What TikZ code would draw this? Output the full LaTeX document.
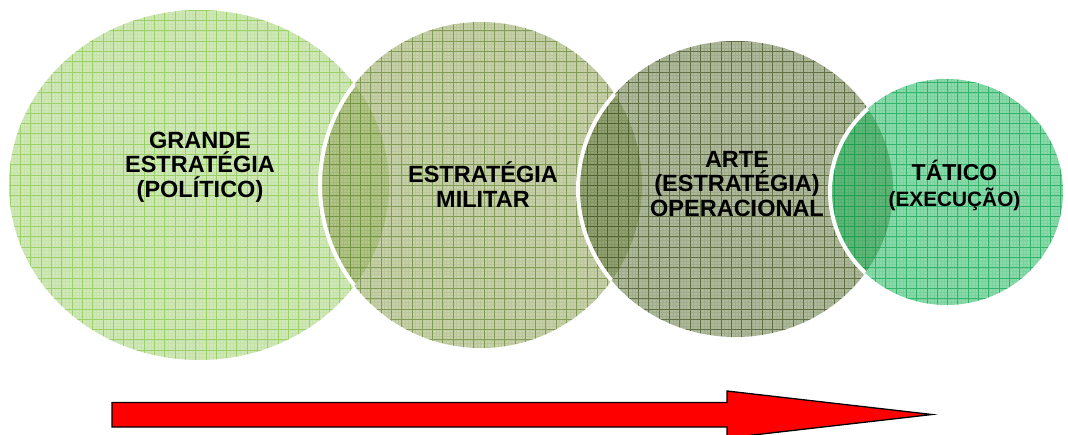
\documentclass[tikz,border=0pt]{standalone}
\usepackage{fontspec}
\setmainfont{Liberation Sans}
\usetikzlibrary{shapes.geometric}
\definecolor{cA}{RGB}{164,209,118}
\definecolor{cAl}{RGB}{135,200,75}
\definecolor{cB}{RGB}{146,164,91}
\definecolor{cBl}{RGB}{105,135,55}
\definecolor{cC}{RGB}{100,119,64}
\definecolor{cCl}{RGB}{70,88,38}
\definecolor{cD}{RGB}{28,182,91}
\definecolor{cDl}{RGB}{20,165,85}
\tikzset{
  lbl/.style={align=center, font=\bfseries\fontsize{23.5}{24.5}\selectfont, text=black, inner sep=0pt},
  rim/.style={draw=white, line width=4pt},
  redarrow/.style={fill=red, draw=black, line width=1.3pt, line join=miter},
}
\newcommand{\bubble}[6]{%
  % #1 cx, #2 cy, #3 rx, #4 ry, #5 fill colour, #6 line colour
  \fill[#5, fill opacity=0.52] (#1,#2) ellipse ({#3} and {#4});
  \begin{scope}
    \clip (#1,#2) ellipse ({#3} and {#4});
    \draw[#6, line width=0.3pt, draw opacity=0.12, step=3.433pt] (#1-#3-12,#2-#4-12) grid (#1+#3+12,#2+#4+12);
    \draw[#6, line width=0.9pt, draw opacity=0.7, step=10.3pt] (#1-#3-12,#2-#4-12) grid (#1+#3+12,#2+#4+12);
  \end{scope}}
\newcommand{\rimover}[8]{%
  % rim of ellipse #1..#4 clipped to ellipse #5..#8
  \begin{scope}
    \clip (#5,#6) ellipse ({#7} and {#8});
    \draw[rim] (#1,#2) ellipse ({#3} and {#4});
  \end{scope}}
\begin{document}
\begin{tikzpicture}[x=1pt,y=-1pt]
\useasboundingbox (0,0) rectangle (1068,434);
\bubble{199}{185}{190}{175}{cA}{cAl}
\bubble{481}{185}{161}{163}{cB}{cBl}
\rimover{481}{185}{161}{163}{199}{185}{190}{175}
\bubble{735.5}{189}{157.5}{148}{cC}{cCl}
\rimover{735.5}{189}{157.5}{148}{481}{185}{161}{163}
\bubble{946.5}{192}{116.5}{113}{cD}{cDl}
\rimover{946.5}{192}{116.5}{113}{735.5}{189}{157.5}{148}

\node[lbl] (t1) at (200,167) {GRANDE\\ESTRATÉGIA\\(POLÍTICO)};
\node[lbl] (t2) at (483,184.5) {ESTRATÉGIA\\MILITAR};
\node[lbl] (t3) at (737,184) {ARTE\\(ESTRATÉGIA)\\OPERACIONAL};
\node[lbl, font=\bfseries\fontsize{23}{26}\selectfont] (t4) at (954.5,185) {TÁTICO\\{\fontsize{20.8}{26}\selectfont (EXECUÇÃO)}};

\draw[redarrow] (112,402.5) -- (727,402.5) -- (727,391) -- (932,414.5) -- (727,438) -- (727,427) -- (112,427) -- cycle;
\end{tikzpicture}
\end{document}
